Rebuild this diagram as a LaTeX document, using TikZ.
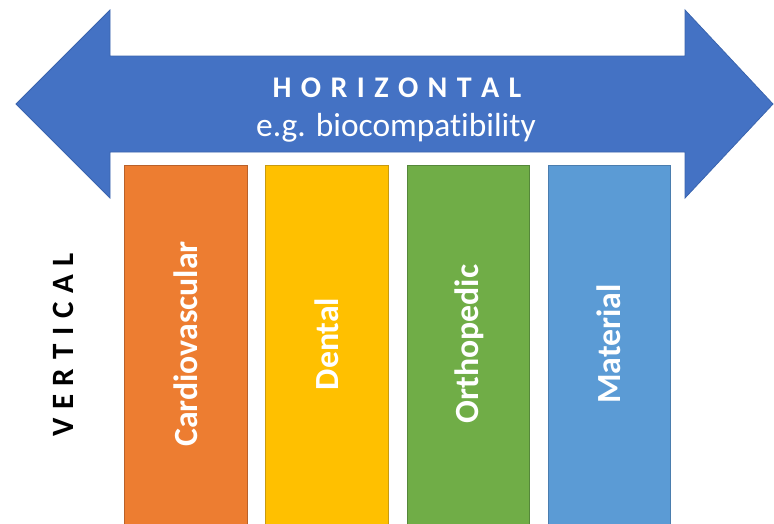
\documentclass[tikz,border=0pt]{standalone}
\usepackage{fontspec}
\setmainfont{Carlito}[Ligatures={NoCommon}]
\definecolor{arrowblue}{HTML}{4472C4}
\definecolor{arrowline}{HTML}{3A64AE}
\definecolor{cardio}{HTML}{ED7D31}
\definecolor{cardioline}{HTML}{B9612A}
\definecolor{dental}{HTML}{FFC000}
\definecolor{dentalline}{HTML}{C89A10}
\definecolor{ortho}{HTML}{70AD47}
\definecolor{ortholine}{HTML}{55873A}
\definecolor{mater}{HTML}{5B9BD5}
\definecolor{materline}{HTML}{4A7DAE}
\tikzset{
  field/.style={line width=0.8pt},
  fieldlabel/.style={text=white, rotate=90, inner sep=0pt, font=\fontsize{33.8}{40}\selectfont\bfseries},
  headline/.style={text=white, inner sep=0pt, anchor=base, font=\fontsize{30}{36}\selectfont\bfseries},
  subline/.style={text=white, inner sep=0pt, anchor=base, font=\fontsize{33.4}{40}\selectfont},
  sideline/.style={text=black, inner sep=0pt, rotate=90, font=\fontsize{31}{36}\selectfont\bfseries}
}
\newcommand\gapH{\hspace{9.4pt}}
\newcommand\gapV{\hspace{8.7pt}}
\begin{document}
\begin{tikzpicture}[x=1pt,y=-1pt]
\useasboundingbox (0,0) rectangle (774,523);
\clip (0,0) rectangle (774,523);
% double arrow
\fill[arrowblue, draw=arrowline, line width=0.8pt]
  (16,104) -- (110,10) -- (110,56) -- (685,56) -- (685,10) -- (773,104)
  -- (685,198) -- (685,152) -- (110,152) -- (110,198) -- cycle;
\node[headline] (horiz) at (397,97) {H\gapH O\gapH R\gapH I\gapH Z\gapH O\gapH N\gapH T\gapH A\gapH L};
\node[subline] (example) at (396,136) {e.g. biocompatibility};
% field boxes
\draw[field, fill=cardio, draw=cardioline] (124,165) rectangle (247,530);
\draw[field, fill=dental, draw=dentalline] (265,165) rectangle (388,530);
\draw[field, fill=ortho, draw=ortholine] (407,165) rectangle (529,530);
\draw[field, fill=mater, draw=materline] (548,165) rectangle (670,530);
\node[fieldlabel] (cv) at (186,344) {Cardiovascular};
\node[fieldlabel] (dt) at (327,344) {Dental};
\node[fieldlabel] (or) at (469,344) {Orthopedic};
\node[fieldlabel] (mt) at (609,344) {Material};
\node[sideline] (vert) at (63,345) {V\gapV E\gapV R\gapV T\gapV I\gapV C\gapV A\gapV L};
\end{tikzpicture}
\end{document}
